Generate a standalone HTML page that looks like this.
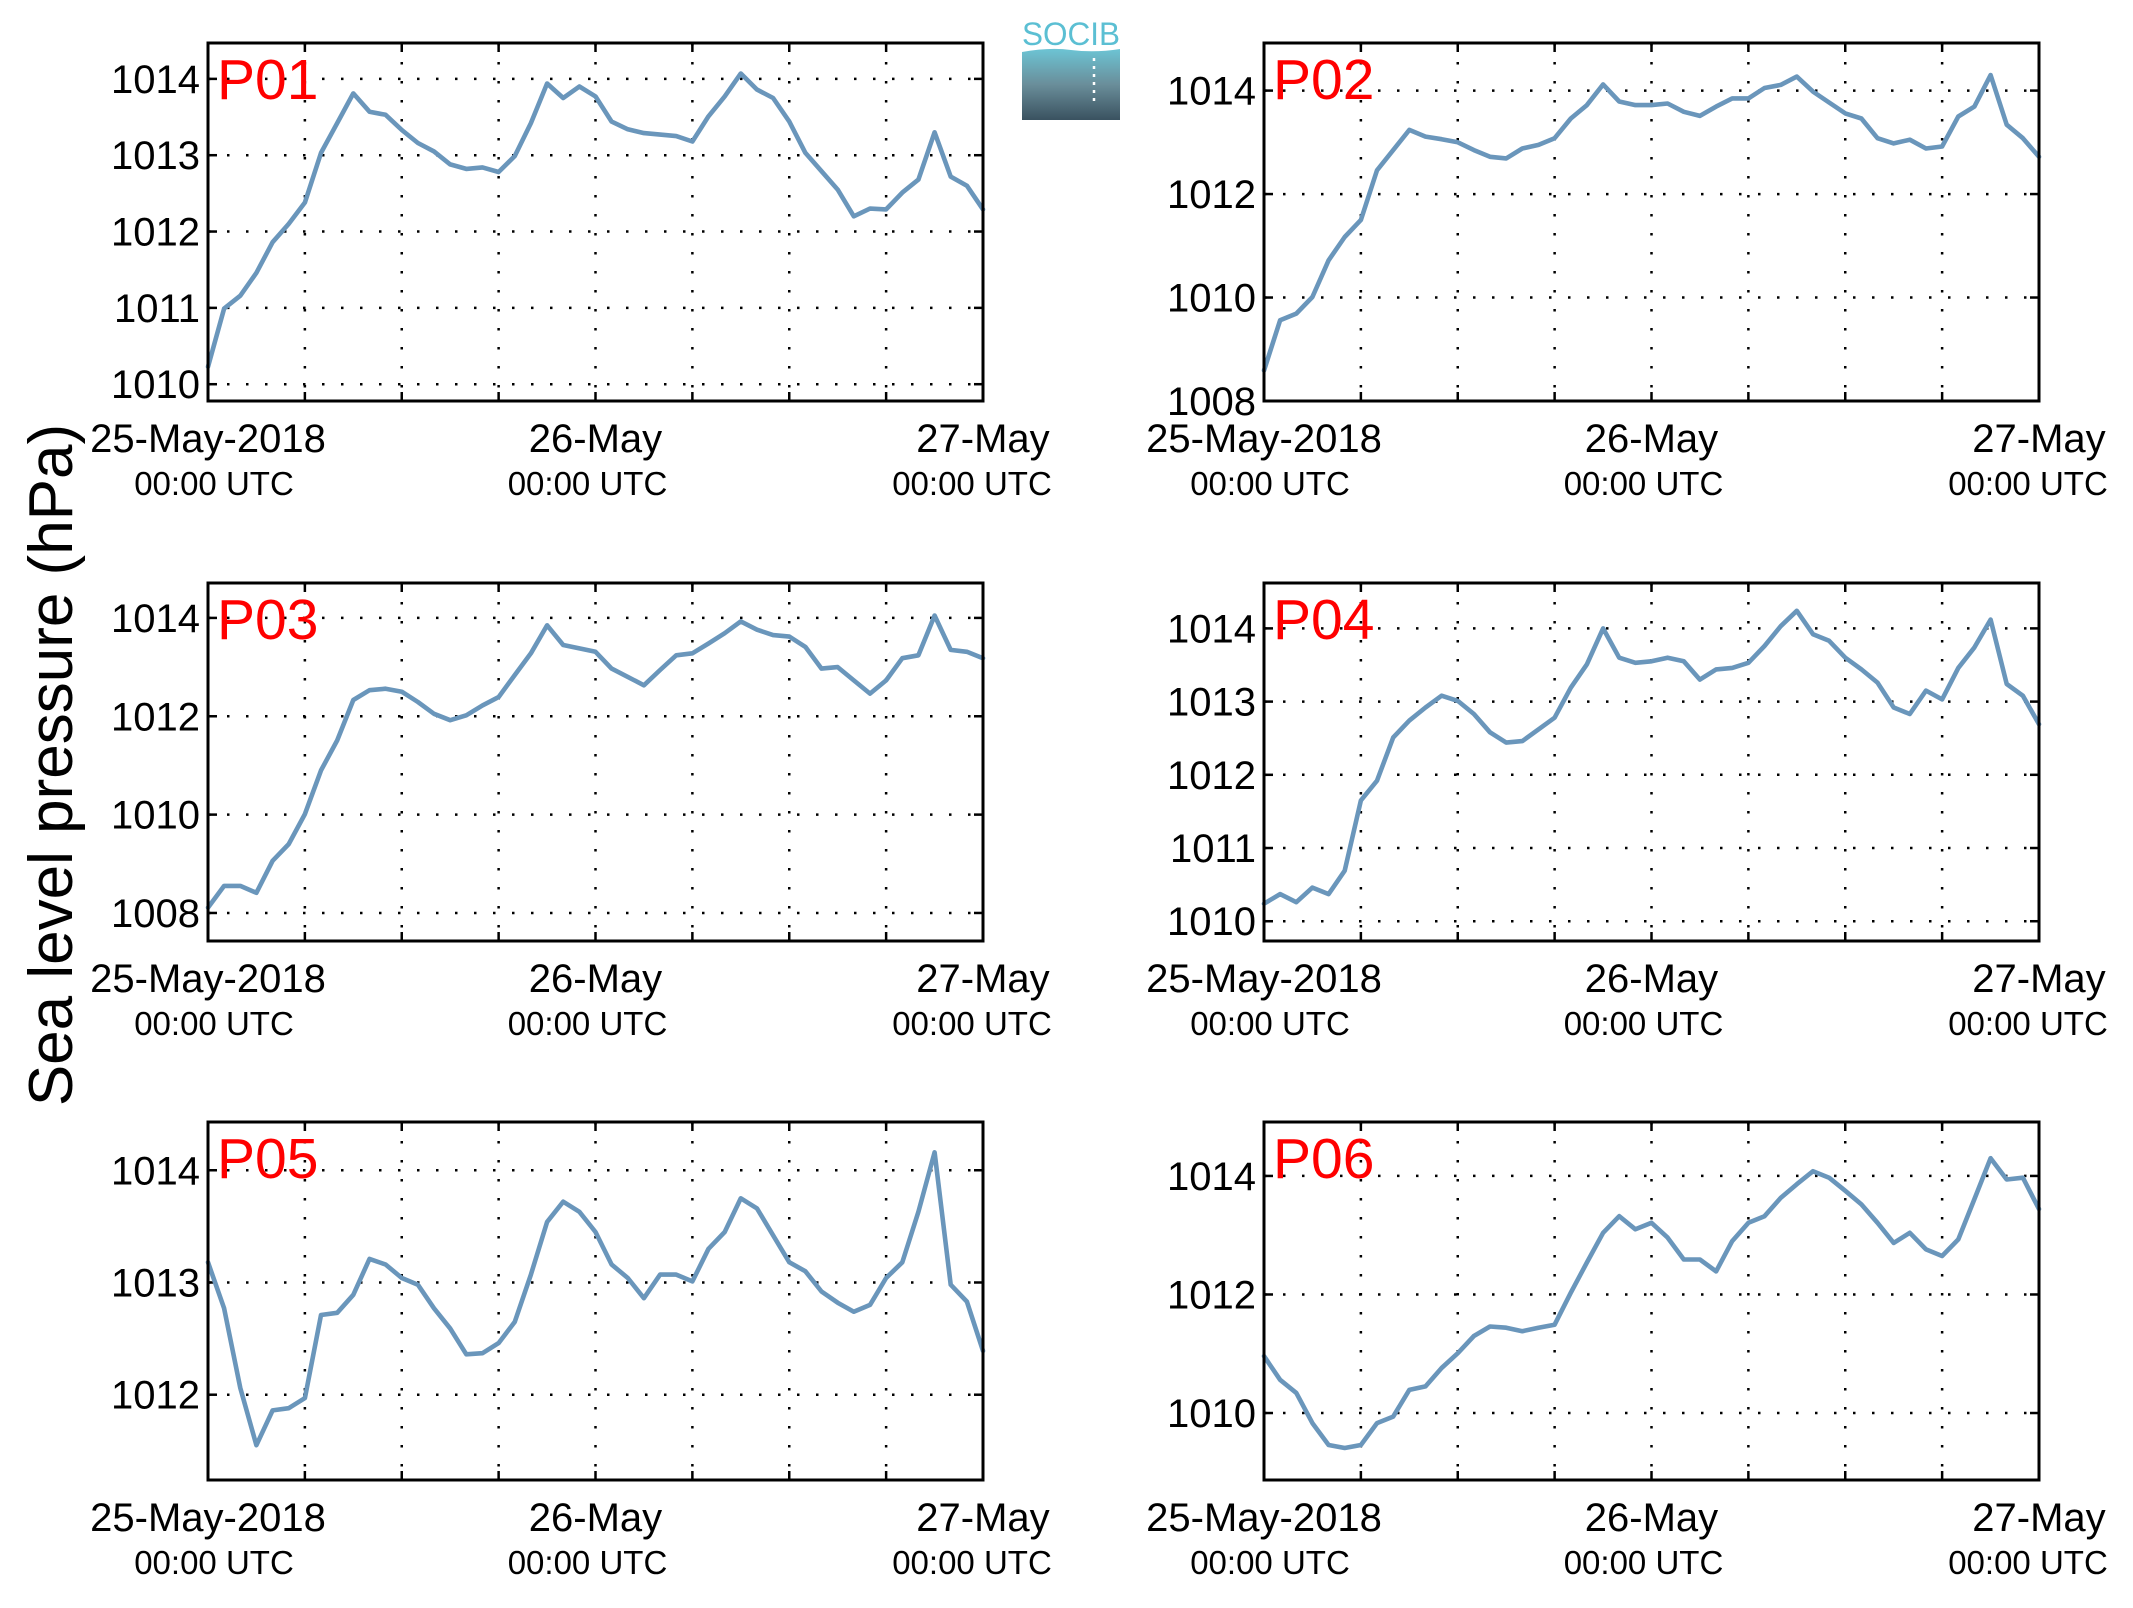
<!DOCTYPE html>
<html><head><meta charset="utf-8"><style>
html,body{margin:0;padding:0;background:#fff;}
svg{display:block;font-family:"Liberation Sans",Arial,sans-serif;}
</style></head><body>
<svg id="fig" width="2133" height="1608" viewBox="0 0 2133 1608" xmlns="http://www.w3.org/2000/svg">
<defs>
<linearGradient id="lg" x1="0" y1="0" x2="0" y2="1">
<stop offset="0" stop-color="#6cc4d4"/><stop offset="0.5" stop-color="#6a8e9a"/><stop offset="1" stop-color="#3a5260"/>
</linearGradient>
</defs>
<g>
<text x="1022" y="45" font-size="32" fill="#5bbfd3" textLength="98" lengthAdjust="spacingAndGlyphs">SOCIB</text>
<path d="M1022 52 Q1050 47 1071 50 Q1095 53 1120 49 L1120 120 L1022 120 Z" fill="url(#lg)"/>
<line x1="1094" y1="58" x2="1094" y2="106" stroke="#fff" stroke-width="2.5" stroke-dasharray="3 5"/>
</g>
<text transform="translate(72,765) rotate(-90)" text-anchor="middle" font-size="62" fill="#000">Sea level pressure (hPa)</text>
<g id="panels"></g>
</svg>
<script>
// Hourly data, 25-May-2018 00:00 UTC to 27-May 00:00 UTC
const hours = Array.from({length:49},(_,i)=>i);
const xTickLabels = ["25-May-2018","26-May","27-May"];
const xTickSub = ["00:00 UTC","00:00 UTC","00:00 UTC"];
const xTickHours = [0,24,48];
const stationNames = ["P01","P02","P03","P04","P05","P06"];
const p01 = [1010.23,1010.99,1011.16,1011.46,1011.86,1012.1,1012.38,1013.03,1013.42,1013.81,1013.57,1013.53,1013.33,1013.16,1013.05,1012.88,1012.82,1012.84,1012.78,1012.99,1013.42,1013.94,1013.75,1013.9,1013.77,1013.44,1013.34,1013.29,1013.27,1013.25,1013.18,1013.51,1013.77,1014.07,1013.86,1013.75,1013.44,1013.03,1012.79,1012.55,1012.2,1012.3,1012.29,1012.51,1012.68,1013.3,1012.72,1012.6,1012.29];
const p02 = [1008.59,1009.56,1009.69,1010.01,1010.72,1011.17,1011.5,1012.46,1012.85,1013.24,1013.11,1013.06,1013.0,1012.85,1012.72,1012.69,1012.88,1012.95,1013.08,1013.46,1013.72,1014.12,1013.79,1013.72,1013.72,1013.75,1013.59,1013.51,1013.69,1013.85,1013.85,1014.05,1014.11,1014.27,1013.98,1013.77,1013.56,1013.46,1013.08,1012.98,1013.05,1012.88,1012.92,1013.5,1013.69,1014.3,1013.34,1013.08,1012.72];
const p03 = [1008.11,1008.55,1008.55,1008.41,1009.06,1009.4,1010.01,1010.9,1011.51,1012.33,1012.53,1012.56,1012.5,1012.29,1012.05,1011.92,1012.02,1012.22,1012.39,1012.84,1013.28,1013.85,1013.45,1013.38,1013.31,1012.97,1012.8,1012.63,1012.94,1013.24,1013.28,1013.48,1013.69,1013.93,1013.76,1013.65,1013.62,1013.41,1012.97,1013.0,1012.73,1012.46,1012.73,1013.18,1013.24,1014.05,1013.35,1013.31,1013.18];
const p04 = [1010.24,1010.37,1010.26,1010.46,1010.37,1010.69,1011.65,1011.92,1012.51,1012.74,1012.92,1013.08,1013.01,1012.83,1012.58,1012.44,1012.46,1012.62,1012.78,1013.19,1013.51,1014.0,1013.6,1013.53,1013.55,1013.6,1013.55,1013.3,1013.44,1013.46,1013.53,1013.76,1014.03,1014.24,1013.92,1013.83,1013.6,1013.44,1013.26,1012.92,1012.83,1013.15,1013.03,1013.46,1013.74,1014.12,1013.24,1013.08,1012.69];
const p05 = [1013.18,1012.77,1012.06,1011.55,1011.86,1011.88,1011.97,1012.71,1012.73,1012.89,1013.21,1013.16,1013.04,1012.98,1012.77,1012.59,1012.36,1012.37,1012.46,1012.65,1013.07,1013.54,1013.72,1013.63,1013.45,1013.16,1013.04,1012.86,1013.07,1013.07,1013.01,1013.3,1013.45,1013.75,1013.66,1013.42,1013.18,1013.1,1012.92,1012.82,1012.74,1012.8,1013.04,1013.18,1013.63,1014.16,1012.98,1012.83,1012.39];
const p06 = [1010.96,1010.56,1010.34,1009.83,1009.46,1009.41,1009.46,1009.83,1009.94,1010.39,1010.45,1010.76,1011.01,1011.3,1011.46,1011.44,1011.38,1011.44,1011.49,1012.03,1012.54,1013.04,1013.32,1013.1,1013.21,1012.96,1012.59,1012.59,1012.39,1012.9,1013.21,1013.32,1013.63,1013.86,1014.08,1013.97,1013.75,1013.52,1013.21,1012.87,1013.04,1012.76,1012.65,1012.93,1013.61,1014.3,1013.94,1013.97,1013.44];
const yTicks01 = [1010,1011,1012,1013,1014];
const yTicks02 = [1008,1010,1012,1014];
const yTicks03 = [1008,1010,1012,1014];
const yTicks04 = [1010,1011,1012,1013,1014];
const yTicks05 = [1012,1013,1014];
const yTicks06 = [1010,1012,1014];
const yRange01 = [1009.78,1014.47];
const yRange02 = [1008.0,1014.92];
const yRange03 = [1007.43,1014.71];
const yRange04 = [1009.73,1014.62];
const yRange05 = [1011.24,1014.43];
const yRange06 = [1008.87,1014.91];

const series=[p01,p02,p03,p04,p05,p06];
const ticks=[yTicks01,yTicks02,yTicks03,yTicks04,yTicks05,yTicks06];
const ranges=[yRange01,yRange02,yRange03,yRange04,yRange05,yRange06];
const lefts=[208,1264], tops=[43,583,1122], W=775, H=358;
const NS="http://www.w3.org/2000/svg";
const root=document.getElementById('panels');
function mk(tag,attrs,parent){const e=document.createElementNS(NS,tag);for(const k in attrs)e.setAttribute(k,attrs[k]);parent.appendChild(e);return e;}
for(let p=0;p<6;p++){
  const L=lefts[p%2], T=tops[Math.floor(p/2)], B=T+H, R=L+W;
  const [y0,y1]=ranges[p];
  const xs=h=>L+h/48*W;
  const ys=v=>B-(v-y0)/(y1-y0)*H;
  const g=mk('g',{},root);
  
  
  for(let k=1;k<8;k++){
    const x=xs(k*6);
    const gl=mk('line',{x1:x,y1:T,x2:x,y2:B,stroke:'#000','stroke-width':2.5,'stroke-dasharray':'2.5 16.5'},g);
    
    
    const t1=mk('line',{x1:x,y1:B,x2:x,y2:B-9,stroke:'#000','stroke-width':2.5},g);
    
    
    const t2=mk('line',{x1:x,y1:T,x2:x,y2:T+9,stroke:'#000','stroke-width':2.5},g);
    
    
  }
  ticks[p].forEach(v=>{
    const y=ys(v);
    const gl=mk('line',{x1:L,y1:y,x2:R,y2:y,stroke:'#000','stroke-width':2.5,'stroke-dasharray':'2.5 16.5'},g);
    
    
    const t1=mk('line',{x1:L,y1:y,x2:L+9,y2:y,stroke:'#000','stroke-width':2.5},g);
    
    
    const t2=mk('line',{x1:R,y1:y,x2:R-9,y2:y,stroke:'#000','stroke-width':2.5},g);
    
    
    const tl=mk('text',{x:L-8,y:y+14,'text-anchor':'end','font-size':40,fill:'#000'},g);
    tl.textContent=v;
    
    
  });
  const d=hours.map((h,i)=>(i?'L':'M')+xs(h).toFixed(1)+' '+ys(series[p][i]).toFixed(1)).join(' ');
  const ln=mk('path',{d:d,fill:'none',stroke:'#6a96bb','stroke-width':4.6,'stroke-linejoin':'round','stroke-linecap':'round'},g);
  
  
  const fr=mk('rect',{x:L,y:T,width:W,height:H,fill:'none',stroke:'#000','stroke-width':3},g);
  
  
  const sl=mk('text',{x:L+9,y:T+56,'font-size':57,fill:'#ff0000'},g);
  sl.textContent=stationNames[p];
  
  
  const subOff=[6,-8,-11];
  xTickHours.forEach((h,i)=>{
    const x=xs(h);
    const a=mk('text',{x:x,y:B+51,'text-anchor':'middle','font-size':40,fill:'#000'},g);
    a.textContent=xTickLabels[i];
    
    
    const b=mk('text',{x:x+subOff[i],y:B+94,'text-anchor':'middle','font-size':33,fill:'#000'},g);
    b.textContent=xTickSub[i];
    
    
  });
}
</script>
</body></html>
